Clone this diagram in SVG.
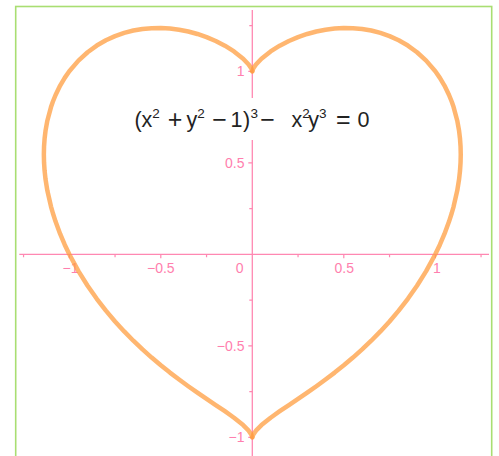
<svg xmlns="http://www.w3.org/2000/svg" xmlns:xlink="http://www.w3.org/1999/xlink" width="499" height="456" viewBox="0 0 499 456">
<style>
.axis{stroke:#FF88B2;stroke-width:1.3;fill:none}
.tick{stroke:#FF88B2;stroke-width:1.2;fill:none}
.lbl{font-family:"Liberation Sans",Arial,sans-serif;font-size:14px;fill:#FF7FAE}
.fx{font-family:"Liberation Sans",Arial,sans-serif;font-size:21.5px;fill:#222}
.op{font-family:"Liberation Sans",Arial,sans-serif;font-size:25px;fill:#222;text-anchor:middle}
.sup{font-size:13.5px}
.heart{fill:none;stroke:#FF9E40;stroke-opacity:0.75;stroke-width:4.5;stroke-linejoin:round;stroke-linecap:round}
</style>
<defs>
<path id="half" d="M252.3,71.3 L253.22,68.61 255.96,64.47 261.45,58.69 270.6,51.44 279.75,45.7 288.9,41 298.05,37.12 307.2,33.97 316.35,31.51 325.5,29.7 334.65,28.54 343.8,28.02 352.95,28.16 362.1,28.99 371.25,30.55 380.4,32.89 389.55,36.09 398.7,40.27 407.85,45.57 417,52.23 426.15,60.6 435.3,71.3 439.88,77.87 444.45,85.6 449.03,94.97 451.77,101.78 453.6,107.06 457.26,120.71 459.09,130.93 460,138.62 460.56,146.5 460.74,154.51 460.56,162.5 460,170.86 459.09,179.13 457.26,190.52 453.6,206.54 451.77,213 449.03,221.59 444.45,233.95 439.88,244.69 435.3,254.3 426.15,271.16 417,285.79 407.85,298.82 398.7,310.63 389.55,321.44 380.4,331.44 371.25,340.73 362.1,349.43 352.95,357.59 343.8,365.3 334.65,372.6 325.5,379.55 316.35,386.2 307.2,392.62 298.05,398.86 288.9,405.02 279.75,411.23 270.6,417.73 261.45,425.07 255.96,430.65 253.22,434.64 252.3,437.3"/>
</defs>
<rect width="499" height="456" fill="#fff"/>
<rect id="frame" x="15.7" y="6.5" width="476" height="470" fill="none" stroke="#A9DE72" stroke-width="1.6"/>
<g id="axes">
<line class="axis" x1="19.3" y1="254.3" x2="489" y2="254.3"/>
<line class="axis" x1="252.3" y1="10" x2="252.3" y2="98"/>
<line class="axis" x1="252.3" y1="140" x2="252.3" y2="456"/>
<path class="tick" d="M23.55,254.3v3 M69.3,254.3v4 M115.05,254.3v3 M160.8,254.3v4 M206.55,254.3v3 M298.05,254.3v3 M343.8,254.3v4 M389.55,254.3v3 M435.3,254.3v4 M481.05,254.3v3"/>
<path class="tick" d="M252.3,25.55h-3 M252.3,71.3h-4 M252.3,162.8h-4 M252.3,208.55h-3 M252.3,300.05h-3 M252.3,345.8h-4 M252.3,391.55h-3 M252.3,437.3h-4"/>
</g>
<g id="labels">
<text class="lbl" x="70.5" y="272.8" text-anchor="middle">−1</text>
<text class="lbl" x="160.8" y="272.8" text-anchor="middle">−0.5</text>
<text class="lbl" x="239.7" y="272.8" text-anchor="middle">0</text>
<text class="lbl" x="344.2" y="272.8" text-anchor="middle">0.5</text>
<text class="lbl" x="437" y="272.8" text-anchor="middle">1</text>
<text class="lbl" x="244.5" y="76" text-anchor="end">1</text>
<text class="lbl" x="244.5" y="167.8" text-anchor="end">0.5</text>
<text class="lbl" x="244.5" y="351" text-anchor="end">−0.5</text>
<text class="lbl" x="244.5" y="442" text-anchor="end">−1</text>
</g>
<g id="curve">
<use xlink:href="#half" class="heart"/>
<use xlink:href="#half" class="heart" transform="matrix(-1 0 0 1 504.6 0)"/>
</g>
<g id="formula">
<text class="fx" y="127"><tspan x="134.5">(</tspan><tspan x="141.5">x</tspan><tspan class="sup" x="152.3" y="117.5">2</tspan><tspan x="186.5" y="127">y</tspan><tspan class="sup" x="197.3" y="117.5">2</tspan><tspan x="230.5" y="127">1</tspan><tspan x="243">)</tspan><tspan class="sup" x="250.5" y="117.5">3</tspan><tspan x="291.5" y="127">x</tspan><tspan class="sup" x="302.2" y="117.5">2</tspan><tspan x="308.3" y="127">y</tspan><tspan class="sup" x="319" y="117.5">3</tspan><tspan x="357.5" y="127">0</tspan></text>
<text class="op" x="175" y="128">+</text>
<text class="op" x="219.5" y="128">−</text>
<text class="op" x="267.5" y="128">−</text>
<text class="op" x="343.4" y="128">=</text>
</g>
</svg>
